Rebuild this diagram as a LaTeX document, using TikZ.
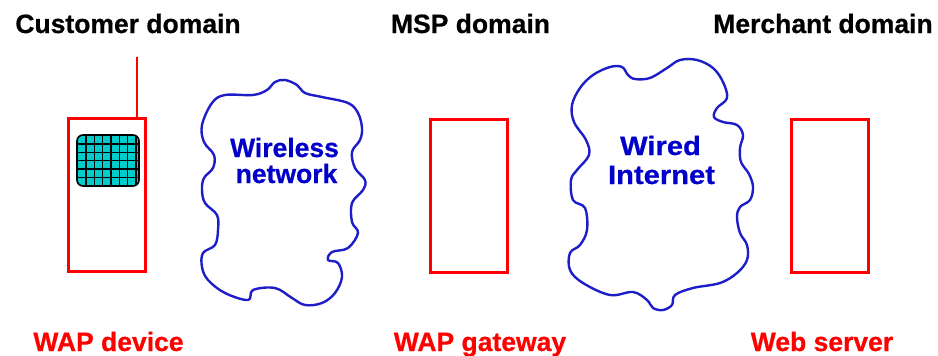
\documentclass[tikz,border=0pt]{standalone}
\usepackage{fontspec}
\setmainfont{Liberation Sans}[BoldFeatures={FakeBold=0.6}]
\definecolor{wred}{RGB}{255,0,0}
\definecolor{cblue}{RGB}{30,30,200}
\definecolor{tblue}{RGB}{0,0,200}
\definecolor{scr}{RGB}{0,204,204}
\begin{document}
\begin{tikzpicture}[x=1pt,y=-1pt,
  lbl/.style={font=\bfseries\fontsize{26.5}{30}\selectfont, anchor=base, inner sep=0pt},
  redlbl/.style={lbl, text=wred},
  cloudtxt/.style={lbl, text=tblue},
  box/.style={draw=wred, line width=3pt, minimum width=77pt, minimum height=153pt, inner sep=0pt},
  cloudline/.style={draw=cblue, line width=2.4pt},
  grid line/.style={line width=1.6pt}]
\useasboundingbox (0,0) rectangle (938,356);

% domain labels
\node[lbl] (cust) at (128,33) {Customer domain};
\node[lbl] (msp) at (470.5,33) {MSP domain};
\node[lbl] (merch) at (823,33) {Merchant domain};

% device labels
\node[redlbl] (ldev) at (108.5,351) {WAP device};
\node[redlbl] (lgw) at (480,351) {WAP gateway};
\node[redlbl] (lsrv) at (822,351) {Web server};

% boxes
\node[box] (device) at (107,195) {};
\node[box] (gateway) at (469,195.5) {};
\node[box] (server) at (830,195.5) {};

% antenna
\coordinate (ant) at (137,57);
\draw[wred, line width=2pt] (ant) -- (ant |- device.north);

% screen
\begin{scope}
\clip[rounded corners=6pt] (77,135) rectangle (139,186);
\fill[scr] (77,135) rectangle (139,186);
\foreach \x in {86,94.33,102.67,111,119.33,127.67,136}
  \draw[grid line] (\x,135) -- (\x,186);
\foreach \y in {144,152.33,160.67,169,177.33}
  \draw[grid line] (77,\y) -- (139,\y);
\end{scope}
\draw[grid line, rounded corners=6pt] (77,135) rectangle (139,186);

% wireless cloud
\draw[cloudline] plot[smooth cycle, tension=0.6] coordinates {
 (202,125) (212,103) (225,95) (253,95) (267,90) (275,82) (285,80) (297,85)
 (305,93) (322,97) (348,103) (358,113) (362,128) (360,140) (352,152)
 (355,168) (365,180) (363,190) (352,203) (352,222) (358,233) (348,248)
 (332,252) (328,260) (338,263) (342,277) (335,293) (322,303) (305,305)
 (292,298) (275,288) (253,290) (248,300) (225,293) (208,280) (202,267)
 (203,253) (215,245) (218,230) (217,215) (205,203) (202,190) (204,178)
 (213,168) (214,155) (204,142)};
\node[cloudtxt] (wl1) at (284.5,157) {Wireless};
\node[cloudtxt] (wl2) at (286.5,183) {network};

% wired cloud
\draw[cloudline] plot[smooth cycle, tension=0.6] coordinates {
 (572,105) (580,88) (593,75) (610,67) (622,67) (628,75) (635,79) (650,78)
 (667,68) (680,60) (697,60) (713,68) (723,82) (727,98) (717,108) (714,117)
 (723,122) (737,125) (743,135) (740,148) (741,162) (749,174) (753,187)
 (750,200) (740,207) (737,217) (740,233) (747,245) (747,260) (737,273)
 (720,283) (693,288) (675,295) (672,305) (663,310) (653,308) (647,300)
 (633,292) (610,295) (583,283) (570,270) (570,253) (580,245) (587,230)
 (585,208) (573,200) (571,180) (577,170) (589,155) (586,140) (574,122)};
\node[cloudtxt] (wd1) at (660.5,155) {\scalebox{1.1}[1]{Wired}};
\node[cloudtxt] (wd2) at (661.5,184) {\scalebox{1.1}[1]{Internet}};
\end{tikzpicture}
\end{document}
